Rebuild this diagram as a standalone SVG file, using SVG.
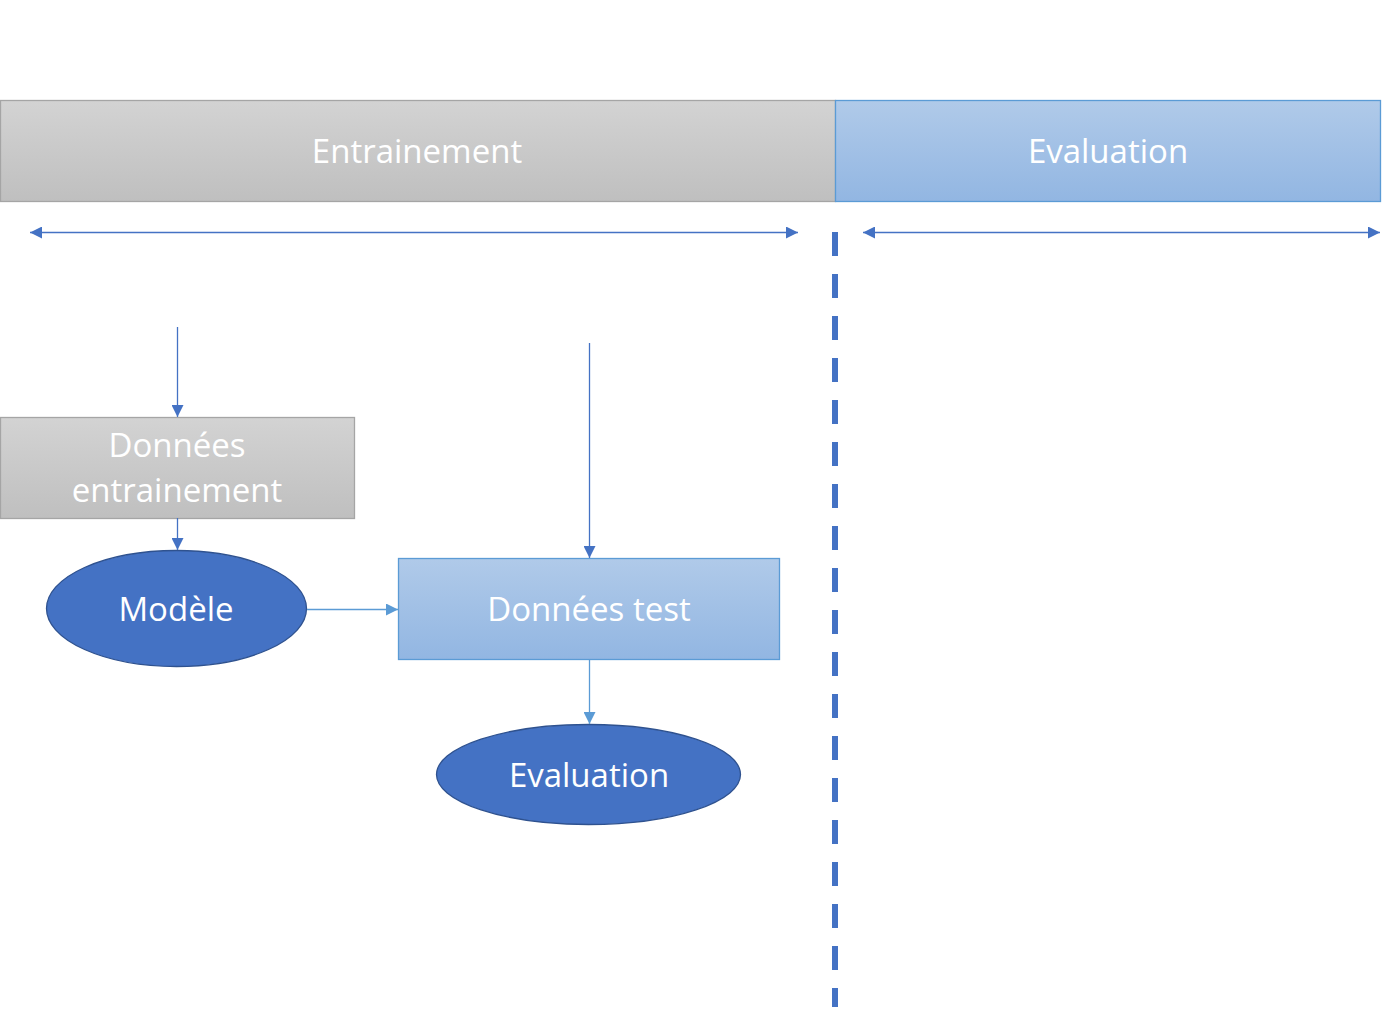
<svg xmlns="http://www.w3.org/2000/svg" width="1394" height="1010" viewBox="0 0 1394 1010">
<defs>
<linearGradient id="gGrey" x1="0" y1="0" x2="0" y2="1"><stop offset="0" stop-color="#d3d3d3"/><stop offset="1" stop-color="#bfbfbf"/></linearGradient>
<linearGradient id="gBlue" x1="0" y1="0" x2="0" y2="1"><stop offset="0" stop-color="#b0cae9"/><stop offset="1" stop-color="#92b6e2"/></linearGradient>
<marker id="aDark" viewBox="0 0 12 12" refX="12" refY="6" markerWidth="12" markerHeight="12" markerUnits="userSpaceOnUse" orient="auto-start-reverse"><path d="M0,0 L12,6 L0,12 z" fill="#4472c4"/></marker>
<marker id="aLight" viewBox="0 0 12 12" refX="12" refY="6" markerWidth="12" markerHeight="12" markerUnits="userSpaceOnUse" orient="auto"><path d="M0,0 L12,6 L0,12 z" fill="#5b9bd5"/></marker>
</defs>
<style>
.grey{fill:url(#gGrey);stroke:#a5a5a5;stroke-width:1.3}
.blue{fill:url(#gBlue);stroke:#5b9bd5;stroke-width:1.3}
.ell{fill:#4472c4;stroke:#2f528f;stroke-width:1.3}
.t{font-family:"Open Sans","Noto Sans","Liberation Sans",sans-serif;font-size:33px;fill:#ffffff;text-anchor:middle}
.cd{stroke:#4472c4;stroke-width:1.3;fill:none}
.cl{stroke:#5b9bd5;stroke-width:1.3;fill:none}
</style>
<g id="header-entrainement"><rect class="grey" x="0.5" y="100.5" width="835" height="101"/><text class="t" x="417" y="163">Entrainement</text></g>
<g id="header-evaluation"><rect class="blue" x="835.5" y="100.5" width="545" height="101"/><text class="t" x="1108" y="163">Evaluation</text></g>
<g id="donnees-entrainement"><rect class="grey" x="0.5" y="417.5" width="354" height="101"/><text class="t" x="177" y="457">Données</text><text class="t" x="177" y="502">entrainement</text></g>
<g id="modele"><ellipse class="ell" cx="176.5" cy="608.5" rx="130" ry="58"/><text class="t" x="176" y="621">Modèle</text></g>
<g id="donnees-test"><rect class="blue" x="398.5" y="558.5" width="381" height="101"/><text class="t" x="589" y="621">Données test</text></g>
<g id="evaluation"><ellipse class="ell" cx="588.5" cy="774.5" rx="152" ry="50"/><text class="t" x="589" y="787">Evaluation</text></g>
<g id="connectors">
<line class="cd" x1="30" y1="232.5" x2="798" y2="232.5" marker-start="url(#aDark)" marker-end="url(#aDark)"/>
<line class="cd" x1="863" y1="232.5" x2="1380" y2="232.5" marker-start="url(#aDark)" marker-end="url(#aDark)"/>
<line x1="835" y1="232" x2="835" y2="1007" stroke="#4472c4" stroke-width="6" stroke-dasharray="24 18"/>
<line class="cd" x1="177.5" y1="327" x2="177.5" y2="417" marker-end="url(#aDark)"/>
<line class="cd" x1="177.5" y1="518" x2="177.5" y2="550" marker-end="url(#aDark)"/>
<line class="cd" x1="589.5" y1="343" x2="589.5" y2="558" marker-end="url(#aDark)"/>
<line class="cl" x1="307" y1="609.5" x2="398" y2="609.5" marker-end="url(#aLight)"/>
<line class="cl" x1="589.5" y1="660" x2="589.5" y2="724" marker-end="url(#aLight)"/>
</g>
</svg>
